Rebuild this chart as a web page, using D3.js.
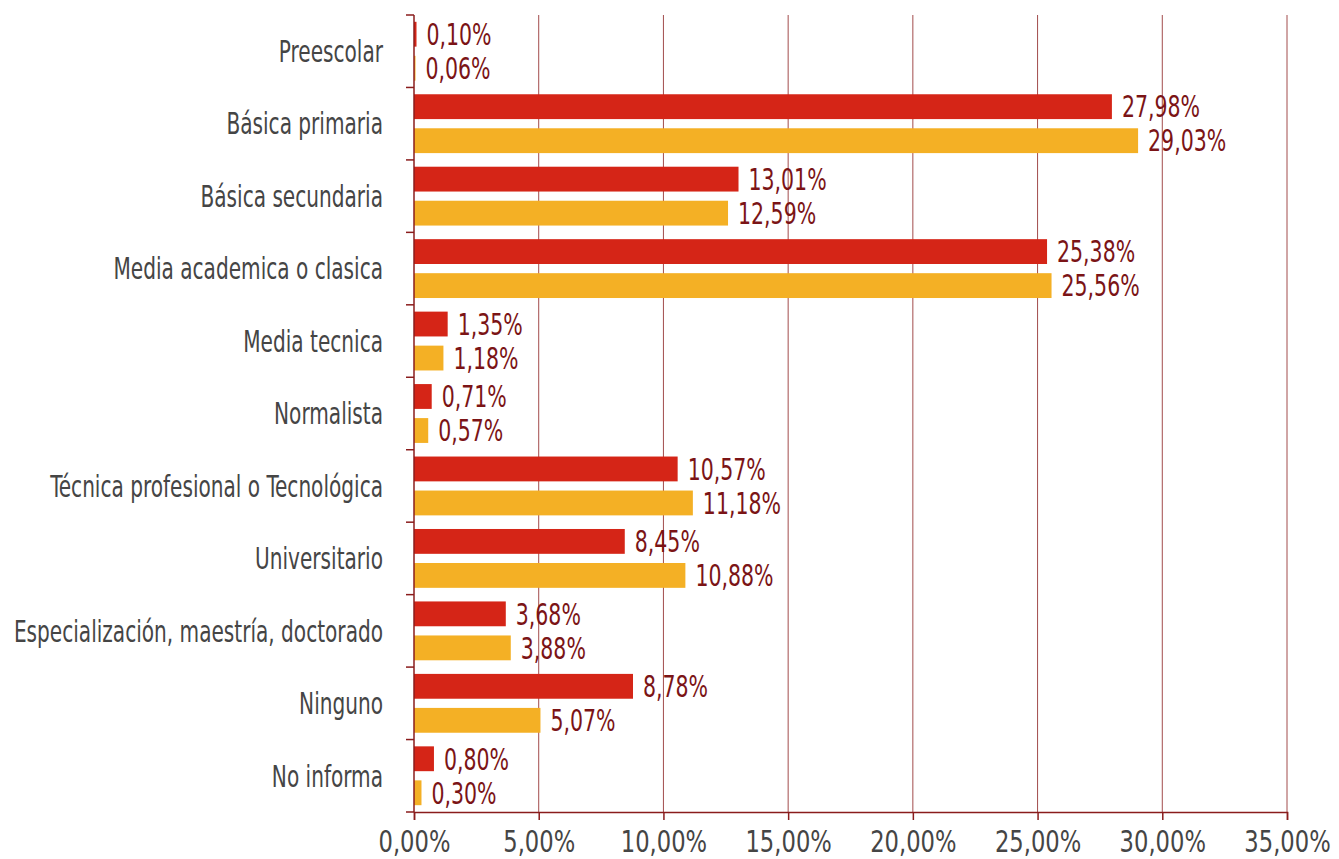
<!DOCTYPE html>
<html>
<head>
<meta charset="utf-8">
<script src="https://cdn.jsdelivr.net/npm/d3@7"></script>
<style>
  body { margin: 0; background: #fff; }
  svg text { font-family: "Liberation Sans Narrow", "DejaVu Sans Condensed", "Roboto", sans-serif; }
</style>
</head>
<body>
<svg id="chart"></svg>
<script>
const categories = ["Preescolar", "Básica primaria", "Básica secundaria", "Media academica o clasica",
  "Media tecnica", "Normalista", "Técnica profesional o Tecnológica", "Universitario",
  "Especialización, maestría, doctorado", "Ninguno", "No informa"]
const series_red = [0.10, 27.98, 13.01, 25.38, 1.35, 0.71, 10.57, 8.45, 3.68, 8.78, 0.80]
const series_yellow = [0.06, 29.03, 12.59, 25.56, 1.18, 0.57, 11.18, 10.88, 3.88, 5.07, 0.30]
const tick_values = [0, 5, 10, 15, 20, 25, 30, 35]

const width = 1339
const height = 859
const margin = {top: 15, right: 52, bottom: 47, left: 414}

const svg = d3.select("#chart")
    .attr("width", width)
    .attr("height", height)

const fmt = v => v.toFixed(2).replace(".", ",") + "%"

// squeeze text horizontally to mimic the narrow font of the original
function squeeze(sel, k) {
    sel.each(function () {
        const t = d3.select(this)
        const x0 = +t.attr("x") || 0
        const tr = t.attr("transform") || ""
        t.attr("x", x0 / k).attr("transform", `${tr} scale(${k},1)`)
    })
}

const x = d3.scaleLinear()
    .domain([0, 35])
    .range([margin.left, width - margin.right])

const y = d3.scaleBand()
    .domain(categories)
    .range([margin.top, height - margin.bottom])

const sub = d3.scaleBand()
    .domain(["red", "yellow"])
    .range([0, y.bandwidth()])
    .paddingInner(0.27)
    .paddingOuter(0.2)

const axisColor = "#8a1c1c"

// gridlines
svg.append("g")
    .selectAll("line")
    .data(tick_values.slice(1))
    .join("line")
        .attr("x1", d => x(d))
        .attr("x2", d => x(d))
        .attr("y1", margin.top)
        .attr("y2", height - margin.bottom)
        .attr("stroke", "#a24c4c")
        .attr("stroke-width", 1)

const rows = svg.append("g")
    .selectAll("g")
    .data(categories.map((c, i) => ({c, red: series_red[i], yellow: series_yellow[i]})))
    .join("g")
        .attr("transform", d => `translate(0,${y(d.c)})`)

const bars = [["red", "#d52517"], ["yellow", "#f4b025"]]
bars.forEach(([key, color]) => {
    rows.append("rect")
        .attr("x", x(0))
        .attr("y", sub(key))
        .attr("width", d => x(d[key]) - x(0))
        .attr("height", sub.bandwidth())
        .attr("fill", color)
    rows.append("text")
        .attr("class", "val")
        .attr("x", d => x(d[key]) + 10)
        .attr("y", sub(key) + sub.bandwidth() / 2)
        .attr("dy", "0.36em")
        .attr("font-size", 30)
        .attr("fill", "#7b1416")
        .text(d => fmt(d[key]))
})
squeeze(svg.selectAll("text.val"), 0.76)

// y axis
const yAxis = svg.append("g")
    .attr("transform", `translate(${margin.left},0)`)
yAxis.append("line")
    .attr("x1", 0).attr("x2", 0)
    .attr("y1", margin.top).attr("y2", height - margin.bottom)
    .attr("stroke", axisColor)
    .attr("stroke-width", 1.5)
yAxis.selectAll(".tick")
    .data(d3.range(categories.length + 1))
    .join("line")
        .attr("x1", -8).attr("x2", 0)
        .attr("y1", i => margin.top + i * y.step())
        .attr("y2", i => margin.top + i * y.step())
        .attr("stroke", axisColor)
        .attr("stroke-width", 1.5)
yAxis.selectAll("text")
    .data(categories)
    .join("text")
        .attr("x", -31)
        .attr("y", d => y(d) + y.bandwidth() / 2)
        .attr("dy", "0.36em")
        .attr("text-anchor", "end")
        .attr("font-size", 30)
        .attr("fill", "#454545")
        .text(d => d)
squeeze(yAxis.selectAll("text"), 0.745)

// x axis
const xAxis = svg.append("g")
    .attr("transform", `translate(0,${height - margin.bottom})`)
    .call(d3.axisBottom(x).tickValues(tick_values).tickSize(8).tickFormat(d => fmt(d)))
xAxis.select(".domain").attr("stroke", axisColor).attr("stroke-width", 1.5)
xAxis.selectAll(".tick line").attr("stroke", axisColor).attr("stroke-width", 1.5)
xAxis.selectAll(".tick text")
    .attr("font-size", 30)
    .attr("fill", "#454545")
    .attr("y", 40)
    .attr("dy", null)
squeeze(xAxis.selectAll(".tick text"), 0.84)
</script>
</body>
</html>
